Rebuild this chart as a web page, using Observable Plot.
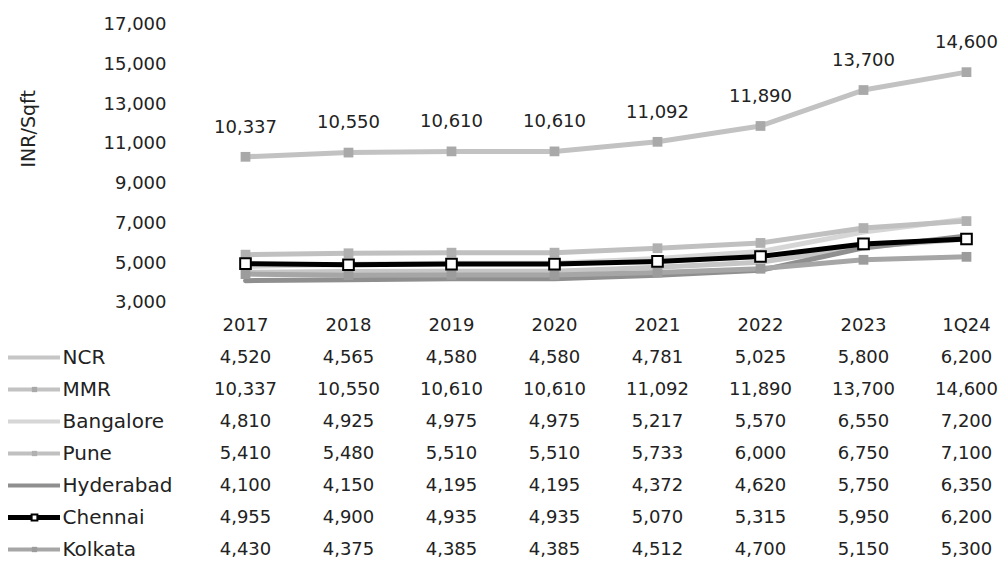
<!DOCTYPE html>
<html><head><meta charset="utf-8">
<script src="https://cdn.jsdelivr.net/npm/d3@7"></script>
<script src="https://cdn.jsdelivr.net/npm/@observablehq/plot@0.6"></script>
<style>
body{margin:0;background:#fff;}
#chart svg{display:block;}
</style></head><body><div id="chart"></div>
<script>
const periods = ["2017","2018","2019","2020","2021","2022","2023","1Q24"];
const cities = ["NCR","MMR","Bangalore","Pune","Hyderabad","Chennai","Kolkata"];
const ncr       = [4520,4565,4580,4580,4781,5025,5800,6200];
const mmr       = [10337,10550,10610,10610,11092,11890,13700,14600];
const bangalore = [4810,4925,4975,4975,5217,5570,6550,7200];
const pune      = [5410,5480,5510,5510,5733,6000,6750,7100];
const hyderabad = [4100,4150,4195,4195,4372,4620,5750,6350];
const chennai   = [4955,4900,4935,4935,5070,5315,5950,6200];
const kolkata   = [4430,4375,4385,4385,4512,4700,5150,5300];
const yTicks = [3000,5000,7000,9000,11000,13000,15000,17000];
const yLabel = "INR/Sqft";

const series = {NCR: ncr, MMR: mmr, Bangalore: bangalore, Pune: pune, Hyderabad: hyderabad, Chennai: chennai, Kolkata: kolkata};
const styles = {
  NCR:       {stroke:"#c6c6c6", width:5, marker:null},
  MMR:       {stroke:"#c2c2c2", width:5, marker:{fill:"#a9a9a9", stroke:"none"}},
  Bangalore: {stroke:"#d6d6d6", width:5, marker:null},
  Pune:      {stroke:"#c0c0c0", width:5, marker:{fill:"#b0b0b0", stroke:"none"}},
  Hyderabad: {stroke:"#8f8f8f", width:5, marker:null},
  Chennai:   {stroke:"#000000", width:5, marker:{fill:"#ffffff", stroke:"#000"}},
  Kolkata:   {stroke:"#a6a6a6", width:5, marker:{fill:"#9c9c9c", stroke:"none"}}
};
const rows = cities.flatMap(c => periods.map((p, j) => ({city: c, period: p, value: series[c][j]})));
const fmt = d3.format(",");
const font = "DejaVu Sans";
const xCfg = {type: "point", domain: periods, range: [242, 968], padding: 0};

const drawOrder = ["Bangalore","NCR","Pune","Hyderabad","Kolkata","MMR","Chennai"];
const lineMarks = [];
for (const c of drawOrder) {
  const d = rows.filter(r => r.city === c);
  const s = styles[c];
  lineMarks.push(Plot.line(d, {x: "period", y: "value", stroke: s.stroke, strokeWidth: s.width}));
}
for (const c of drawOrder) {
  const d = rows.filter(r => r.city === c);
  const s = styles[c];
  if (s.marker) lineMarks.push(Plot.dot(d, {x: "period", y: "value", symbol: "square", r: c === "Chennai" ? 6 : 5.5,
      fill: s.marker.fill, stroke: s.marker.stroke, strokeWidth: 2}));
}

const p1 = Plot.plot({
  width: 1004, height: 312,
  marginLeft: 166, marginRight: 0, marginTop: 24, marginBottom: 10,
  style: {fontFamily: font, fontSize: "18px", color: "#222", background: "#fff", overflow: "visible"},
  x: {...xCfg, axis: null},
  y: {domain: [3000, 17000], axis: null},
  marks: [
    Plot.axisY({ticks: yTicks, tickSize: 0, tickPadding: 0, tickFormat: fmt, label: null, fontSize: 18}),
    Plot.text([yLabel], {frameAnchor: "left", dx: -138, dy: 4, rotate: -90, fontSize: 19, style: "letter-spacing:1.5px"}),
    ...lineMarks,
    Plot.text(rows.filter(r => r.city === "MMR"), {x: "period", y: "value", text: d => fmt(d.value), dy: -30, fontSize: 18, fill: "#222"})
  ]
});

const rowKeys = ["", ...cities];
const p2 = Plot.plot({
  width: 1004, height: 262,
  marginLeft: 0, marginRight: 0, marginTop: 0, marginBottom: 0,
  style: {fontFamily: font, fontSize: "18px", color: "#222", background: "#fff", overflow: "visible"},
  x: {...xCfg, axis: null},
  y: {type: "point", domain: rowKeys, range: [13, 237], padding: 0, axis: null},
  marks: [
    Plot.text(periods, {x: d => d, y: () => "", text: d => d, fontSize: 18, fill: "#222"}),
    Plot.text(rows, {x: "period", y: "city", text: d => fmt(d.value), fontSize: 18, fill: "#222"}),
    Plot.ruleY(cities, {y: d => d, stroke: d => styles[d].stroke, strokeWidth: d => d === "Chennai" ? 5 : 4, insetLeft: 8, insetRight: 944}),
    Plot.dot(cities.filter(c => styles[c].marker), {y: d => d, frameAnchor: "left", dx: 34, symbol: "square",
      r: d => d === "Chennai" ? 6.5 : 5.5, fill: d => styles[d].marker.fill, stroke: d => styles[d].marker.stroke, strokeWidth: 2}),
    Plot.text(cities, {y: d => d, text: d => d, frameAnchor: "left", dx: 62, textAnchor: "start", fontSize: 20, fill: "#222",
      style: "letter-spacing:1.8px"})
  ]
});

const el = document.getElementById("chart");
el.appendChild(p1);
el.appendChild(p2);
</script></body></html>
